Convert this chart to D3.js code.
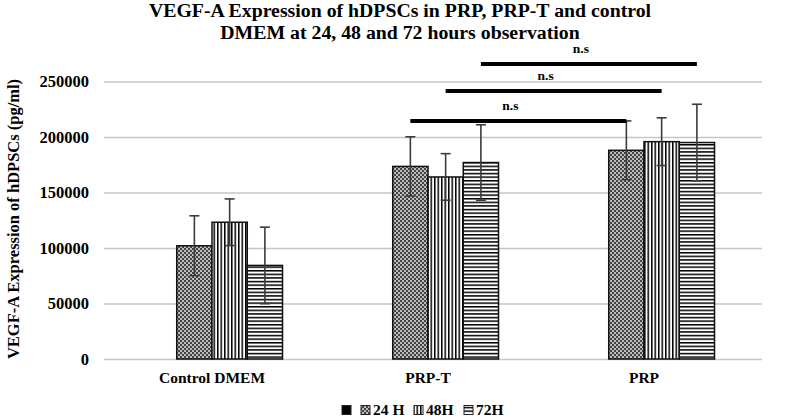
<!DOCTYPE html>
<html><head><meta charset="utf-8">
<script src="https://cdn.jsdelivr.net/npm/d3@7"></script>
<style>body{margin:0;background:#fff}svg{display:block}</style>
</head><body>
<svg id="c" width="800" height="418"></svg>
<script>
const categories = ["Control DMEM", "PRP-T", "PRP"];
const seriesNames = ["", "24 H", "48H", "72H"];
const series0 = [0, 0, 0];
const series24 = [102000, 173500, 188000];
const series48 = [123200, 164000, 195800];
const series72 = [84300, 177000, 195000];
const err0 = [0, 0, 0];
const err24 = [27000, 26700, 26500];
const err48 = [21000, 21000, 21500];
const err72 = [34500, 34000, 34500];
const yTicks = [0, 50000, 100000, 150000, 200000, 250000];
// significance comparisons: category from, category to, series index, line value
const sigFrom = ["PRP-T", "PRP-T", "PRP-T"];
const sigTo = ["PRP", "PRP", "PRP"];
const sigSeries = [1, 2, 3];
const sigValue = [214500, 241500, 265800];
const sigLabel = ["n.s", "n.s", "n.s"];

const values = [series0, series24, series48, series72];
const errors = [err0, err24, err48, err72];

const svg = d3.select("#c");
const defs = svg.append("defs");
const p1 = defs.append("pattern").attr("id","pat1").attr("patternUnits","userSpaceOnUse").attr("width",4).attr("height",4);
p1.append("rect").attr("width",4).attr("height",4).attr("fill","#bdbdbd");
p1.append("rect").attr("width",2).attr("height",2).attr("fill","#444");
p1.append("rect").attr("x",2).attr("y",2).attr("width",2).attr("height",2).attr("fill","#444");
const p2 = defs.append("pattern").attr("id","pat2").attr("patternUnits","userSpaceOnUse").attr("width",3.5).attr("height",4);
p2.append("rect").attr("width",3.5).attr("height",4).attr("fill","#fff");
p2.append("rect").attr("width",1.5).attr("height",4).attr("fill","#000");
const p3 = defs.append("pattern").attr("id","pat3").attr("patternUnits","userSpaceOnUse").attr("width",4).attr("height",3.6);
p3.append("rect").attr("width",4).attr("height",3.6).attr("fill","#fff");
p3.append("rect").attr("width",4).attr("height",1.5).attr("fill","#000");
const fills = ["#000", "url(#pat1)", "url(#pat2)", "url(#pat3)"];

const x = d3.scaleBand().domain(categories).range([104, 752]).padding(0);
const groupW = x.bandwidth() * 0.653;
const xs = d3.scaleBand().domain(d3.range(seriesNames.length)).range([0, groupW]).padding(0);
const y = d3.scaleLinear().domain([0, 250000]).range([359, 81.5]);

const serif = "'Liberation Serif','Times New Roman',serif";

const yAxis = d3.axisLeft(y).tickValues(yTicks).tickFormat(d3.format("d")).tickSize(-(762-104)).tickPadding(15);
const ga = svg.append("g").attr("transform","translate(104,0)").call(yAxis);
ga.select(".domain").remove();
ga.selectAll(".tick line").attr("stroke","#c6c6c6").attr("stroke-width",1.5);
ga.selectAll(".tick text").attr("font-family",serif).attr("font-weight","bold").attr("font-size",16.5).attr("fill","#000");

const xAxis = d3.axisBottom(x).tickSize(0).tickPadding(13);
const gx = svg.append("g").attr("transform","translate(0,359)").call(xAxis);
gx.select(".domain").remove();
gx.selectAll(".tick text").attr("font-family",serif).attr("font-weight","bold").attr("font-size",15.5).attr("fill","#000");

const off = d => x(d) + (x.bandwidth() - groupW) / 2;
seriesNames.forEach((s, si) => {
  if (si === 0) return;
  const g = svg.append("g");
  categories.forEach((c, ci) => {
    const v = values[si][ci];
    const bx = off(c) + xs(si);
    g.append("rect").attr("x", bx).attr("y", y(v)).attr("width", xs.bandwidth()).attr("height", y(0) - y(v))
      .attr("fill", fills[si]).attr("stroke","#111").attr("stroke-width",1.5);
  });
});
seriesNames.forEach((s, si) => {
  if (si === 0) return;
  categories.forEach((c, ci) => {
    const v = values[si][ci], e = errors[si][ci];
    const cx = off(c) + xs(si) + xs.bandwidth() / 2;
    const g = svg.append("g").attr("stroke","#3c3c3c").attr("stroke-width",1.6);
    g.append("line").attr("x1",cx).attr("x2",cx).attr("y1",y(v+e)).attr("y2",y(v-e));
    g.append("line").attr("x1",cx-5).attr("x2",cx+5).attr("y1",y(v+e)).attr("y2",y(v+e));
    g.append("line").attr("x1",cx-5).attr("x2",cx+5).attr("y1",y(v-e)).attr("y2",y(v-e));
  });
});

sigValue.forEach((v, i) => {
  const si = sigSeries[i];
  const x1 = off(sigFrom[i]) + xs(si) + xs.bandwidth()/2;
  const x2 = off(sigTo[i]) + xs(si) + xs.bandwidth()/2;
  svg.append("line").attr("x1",x1).attr("x2",x2).attr("y1",y(v)).attr("y2",y(v)).attr("stroke","#000").attr("stroke-width",4);
  svg.append("text").attr("x",(x1+x2)/2 - 8).attr("y",y(v)-11).attr("text-anchor","middle")
    .attr("font-family",serif).attr("font-weight","bold").attr("font-size",13.5).text(sigLabel[i]);
});

const title = svg.append("text").attr("text-anchor","middle").attr("font-family",serif).attr("font-weight","bold").attr("font-size",19.8);
title.append("tspan").attr("x",400).attr("y",17).text("VEGF-A Expression of hDPSCs in PRP, PRP-T and control");
title.append("tspan").attr("x",400).attr("y",39).text("DMEM at 24, 48 and 72 hours observation");

svg.append("text").attr("transform","translate(19,219) rotate(-90)").attr("text-anchor","middle")
  .attr("font-family",serif).attr("font-weight","bold").attr("font-size",16.5).text("VEGF-A Expression of hDPSCs (pg/ml)");

const legX = [342, 361, 414, 464];
const lg = svg.append("g");
seriesNames.forEach((s, si) => {
  const gx0 = legX[si];
  lg.append("rect").attr("x", gx0).attr("y", 405.5).attr("width", 9).attr("height", 9)
    .attr("fill", fills[si]).attr("stroke", "#222").attr("stroke-width", 1);
  if (s) lg.append("text").attr("x", gx0 + 12).attr("y", 415).attr("font-family",serif).attr("font-weight","bold").attr("font-size",15.5).text(s);
});
</script>
</body></html>
